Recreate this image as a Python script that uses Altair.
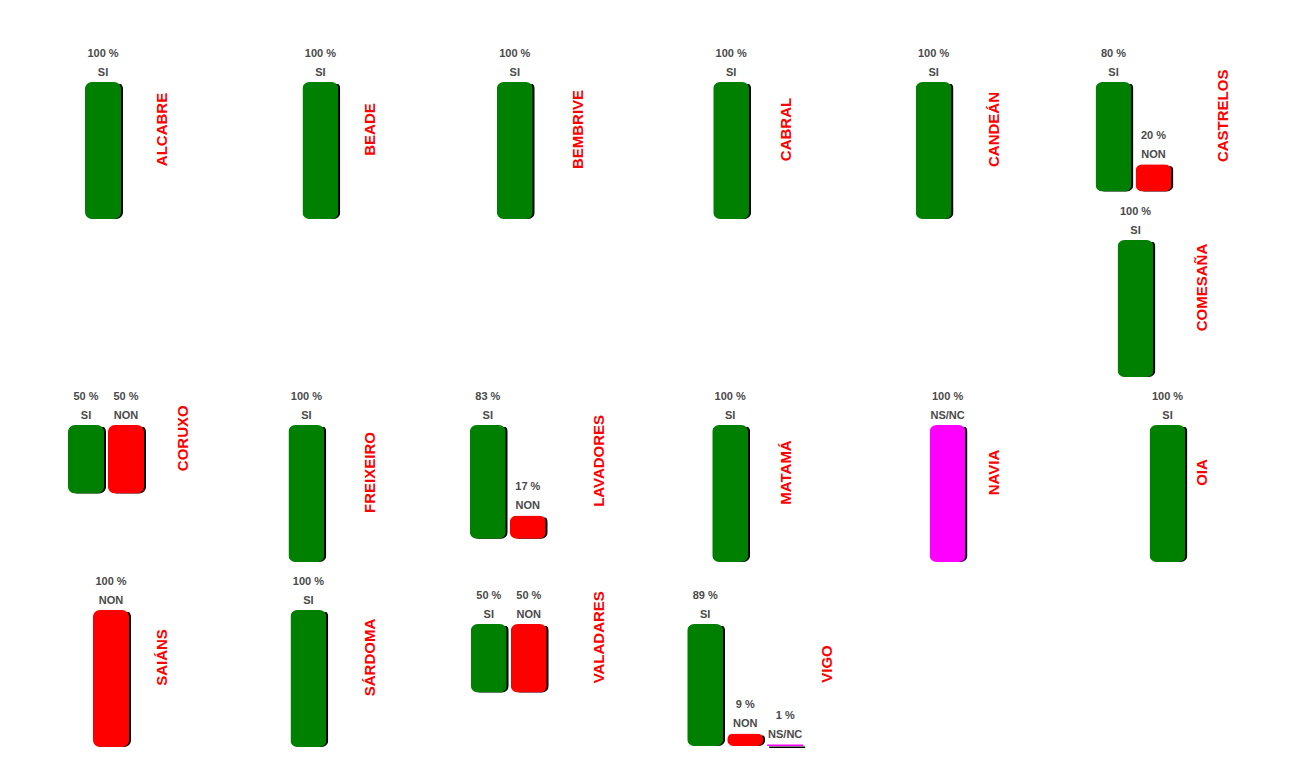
import altair as alt
import pandas as pd

# ---------------- data ----------------
parishes = ["ALCABRE", "BEADE", "BEMBRIVE", "CABRAL", "CANDEÁN", "CASTRELOS",
            "COMESAÑA", "CORUXO", "FREIXEIRO", "LAVADORES", "MATAMÁ", "NAVIA",
            "OIA", "SAIÁNS", "SÁRDOMA", "VALADARES", "VIGO"]
si_pct   = [100, 100, 100, 100, 100, 80, 100, 50, 100, 83, 100, 0, 100, 0, 100, 50, 89]
non_pct  = [0, 0, 0, 0, 0, 20, 0, 50, 0, 17, 0, 0, 0, 100, 0, 50, 9]
nsnc_pct = [0, 0, 0, 0, 0, 0, 0, 0, 0, 0, 0, 100, 0, 0, 0, 0, 1]
answers = ["SI", "NON", "NS/NC"]

# ---------------- style / layout ----------------
answer_colors = ["#008000", "#ff0000", "#ff00ff"]
FONT = "Liberation Sans"
LABEL_COLOR = "#4a4a4a"
CELL_W = 207.4
PX_PER_PCT = 1.37
BAR_STEP = 40
RADIUS = 7
bar_offset = {
    "ALCABRE": 69, "BEADE": 78.4, "BEMBRIVE": 64.8, "CABRAL": 73.2, "CANDEÁN": 67.6,
    "CASTRELOS": 39.5, "COMESAÑA": 61.5, "CORUXO": 52, "FREIXEIRO": 64.4, "LAVADORES": 37.8,
    "MATAMÁ": 72.2, "NAVIA": 81.6, "OIA": 93.5, "SAIÁNS": 77, "SÁRDOMA": 66.4,
    "VALADARES": 38.8, "VIGO": 47.2,
}
top_shift = {"VALADARES": 14, "VIGO": 14}


def panel(i):
    name = parishes[i]
    vals = [si_pct[i], non_pct[i], nsnc_pct[i]]
    cats = [a for a, v in zip(answers, vals) if v > 0]
    vs = [v for v in vals if v > 0]
    df = pd.DataFrame({"answer": cats, "pct": vs, "label": [f"{v} %" for v in vs]})
    vmax = max(vs)
    H = vmax * PX_PER_PCT
    sh = top_shift.get(name, 0)
    n = len(cats)
    off = bar_offset[name]
    x = alt.X("answer:N", sort=cats, axis=None,
              scale=alt.Scale(domain=cats, range=[off, off + BAR_STEP * n],
                              paddingInner=0.1, paddingOuter=0.05))
    y = alt.Y("pct:Q", axis=None,
              scale=alt.Scale(domain=[0, vmax], nice=False, range=[H + sh, sh]))
    base = alt.Chart(df).encode(x=x, y=y)
    color = alt.Color("answer:N", scale=alt.Scale(domain=answers, range=answer_colors),
                      legend=None)
    big = alt.datum.pct >= 5
    small = alt.datum.pct < 5
    shadow_big = base.transform_filter(big).mark_bar(
        color="#000000", cornerRadius=RADIUS, xOffset=2, yOffset=2)
    bars_big = base.transform_filter(big).mark_bar(cornerRadius=RADIUS).encode(color=color)
    layers = [shadow_big, bars_big]
    if min(vs) < 5:
        layers.append(base.transform_filter(small).mark_bar(
            color="#000000", xOffset=2, yOffset=2, height=2))
        layers.append(base.transform_filter(small).mark_bar().encode(color=color))
    pct_t = base.mark_text(dy=-25.5, baseline="alphabetic", font=FONT, fontSize=11,
                           fontWeight="bold", color=LABEL_COLOR).encode(text="label:N")
    cat_t = base.mark_text(dy=-6.5, baseline="alphabetic", font=FONT, fontSize=11,
                           fontWeight="bold", color=LABEL_COLOR).encode(text="answer:N")
    name_t = alt.Chart(pd.DataFrame({"parish": [name]})).mark_text(
        angle=270, font=FONT, fontSize=15, fontWeight="bold", color="#ff0000",
        align="center", baseline="middle"
    ).encode(text="parish:N",
             x=alt.value(148 + 20.5 * (n - 1)),
             y=alt.value(sh + (H - 42) / 2))
    layers += [pct_t, cat_t, name_t]
    return alt.layer(*layers).properties(width=CELL_W, height=H + sh)


idx = {p: k for k, p in enumerate(parishes)}
P = lambda p: panel(idx[p])

row1 = alt.hconcat(
    P("ALCABRE"), P("BEADE"), P("BEMBRIVE"), P("CABRAL"), P("CANDEÁN"),
    alt.vconcat(P("CASTRELOS"), P("COMESAÑA"), spacing=48, bounds="flush"),
    spacing=0, bounds="flush")
row3 = alt.hconcat(P("CORUXO"), P("FREIXEIRO"), P("LAVADORES"), P("MATAMÁ"),
                   P("NAVIA"), P("OIA"), spacing=0, bounds="flush")
row4 = alt.hconcat(P("SAIÁNS"), P("SÁRDOMA"), P("VALADARES"), P("VIGO"),
                   spacing=0, bounds="flush")

chart = alt.vconcat(row1, row3, row4, spacing=12).properties(
    padding={"left": 5, "top": 39, "right": 5, "bottom": 5}
).configure_view(stroke="transparent")

chart.save("out.html", embed_options={"renderer": "svg", "actions": False})
